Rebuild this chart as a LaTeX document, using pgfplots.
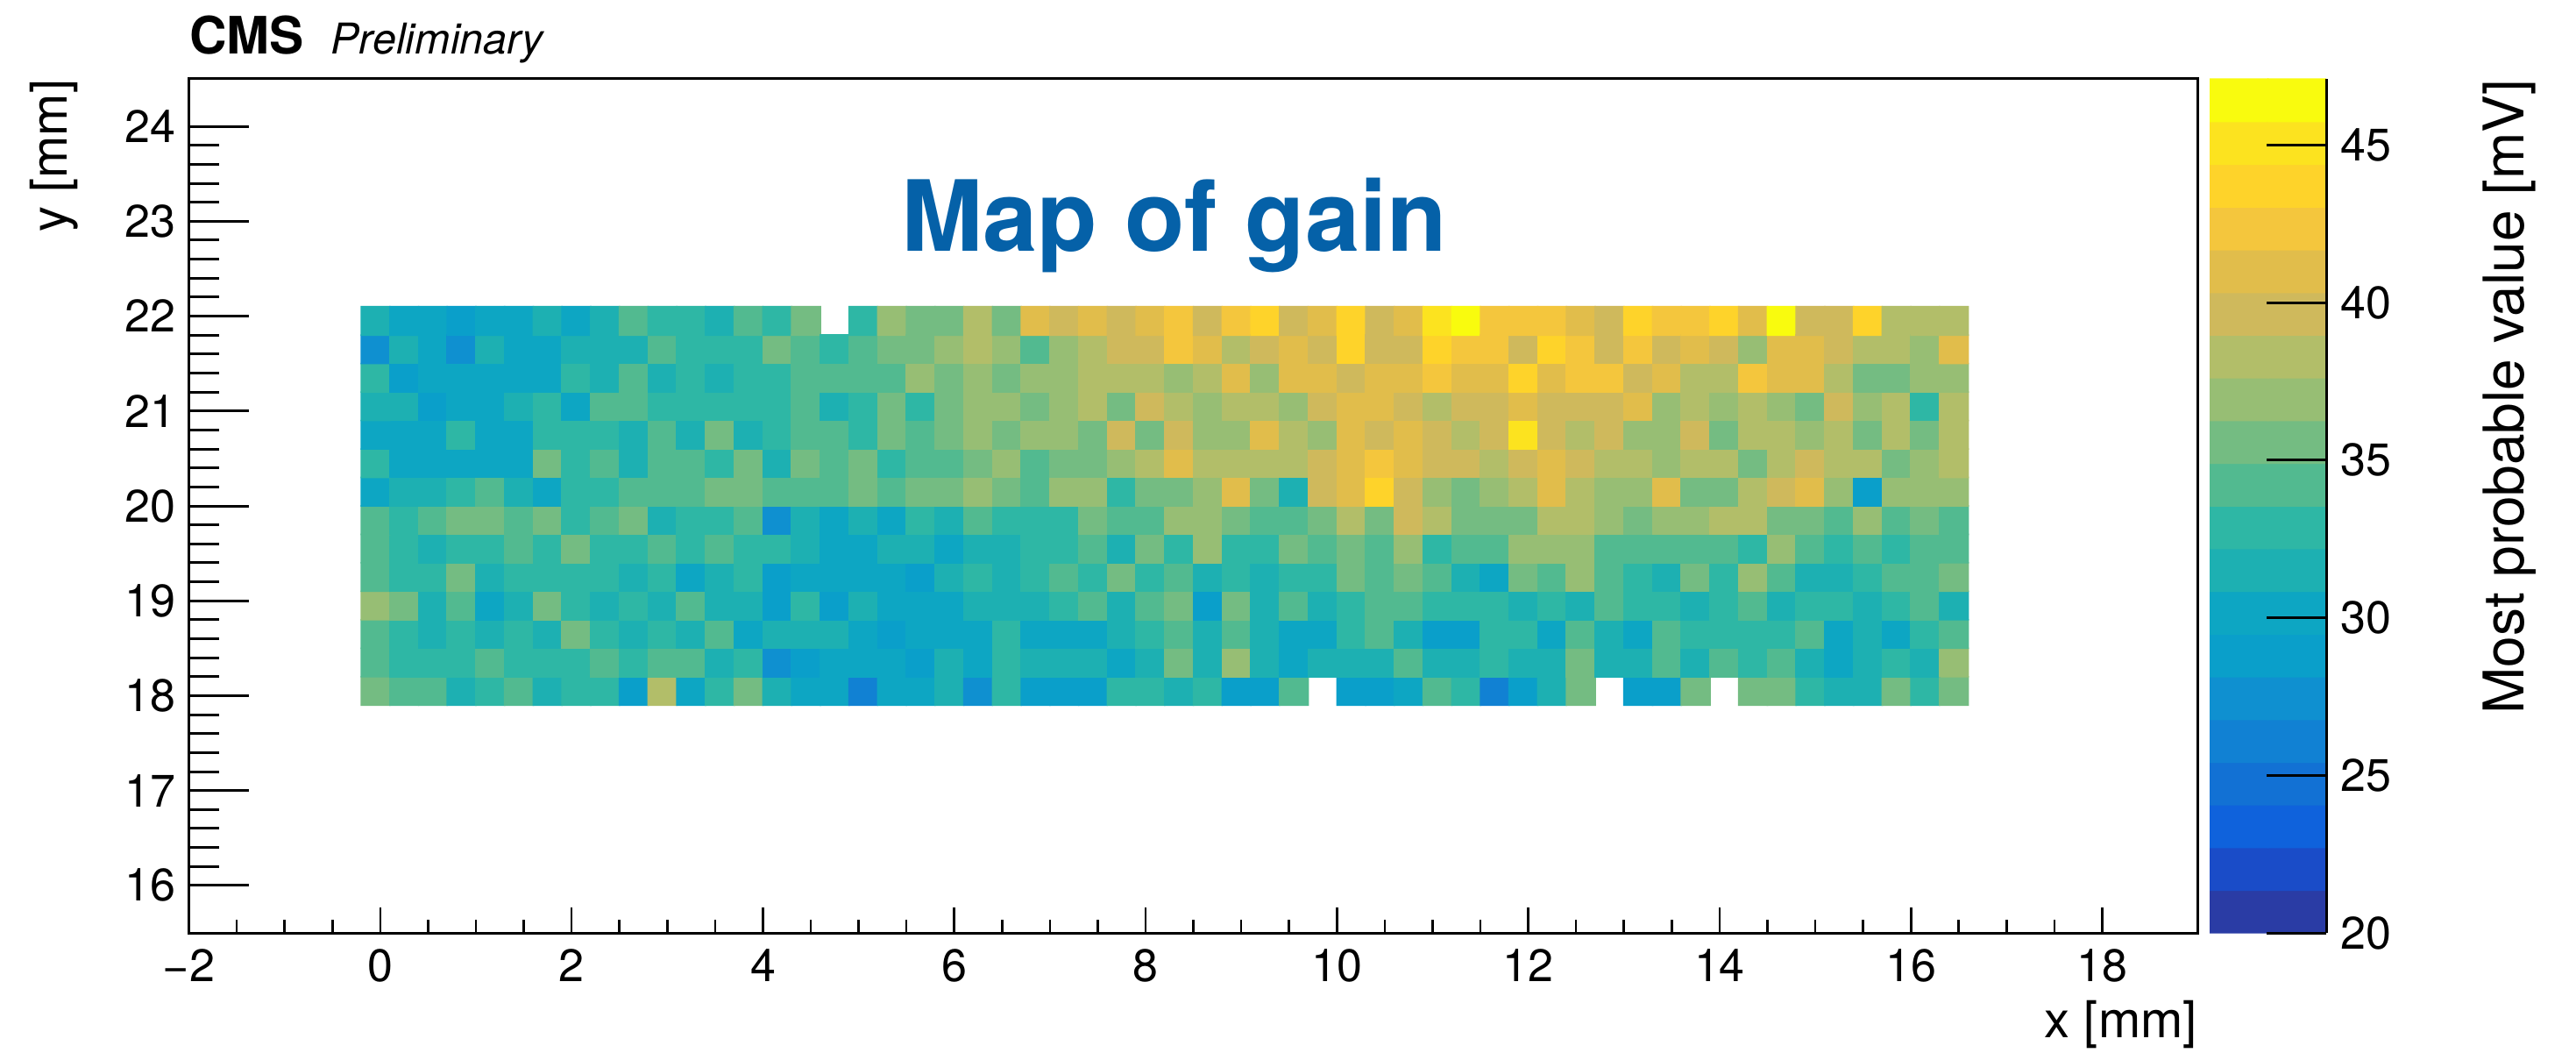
\documentclass[border=0pt]{standalone}
\usepackage{fontspec}
\setmainfont{TeX Gyre Heros}
\usepackage{pgfplots}
\pgfplotsset{compat=1.18}
\definecolor{titleblue}{RGB}{5,97,168}
\tikzset{txt/.style={font=\fontsize{13}{15}\selectfont}}
\pgfplotsset{
  gainmap/.style={
    colormap={gain}{rgb255=(42,60,165) rgb255=(26,76,200) rgb255=(15,98,220) rgb255=(18,113,212) rgb255=(17,129,211)
      rgb255=(15,144,208) rgb255=(10,159,202) rgb255=(13,166,195) rgb255=(29,176,178) rgb255=(46,183,165)
      rgb255=(82,186,144) rgb255=(116,188,130) rgb255=(151,190,116) rgb255=(178,190,105) rgb255=(207,185,92)
      rgb255=(225,189,75) rgb255=(244,198,61) rgb255=(254,211,42) rgb255=(252,227,31) rgb255=(249,251,14)},
    colormap access=piecewise constant,
    point meta min=20, point meta max=47.1
  }
}
\begin{document}
\begin{tikzpicture}[x=1pt,y=1pt]
\useasboundingbox (0,0) rectangle (734.75,300);
% heat map and x ticks
\begin{axis}[
  at={(53.9pt,34pt)}, anchor=south west, scale only axis,
  width=573pt, height=243.5pt, gainmap,
  xmin=-2, xmax=19, ymin=15.5, ymax=24.5,
  xtick={-2,0,...,18}, xticklabels={−2,0,2,4,6,8,10,12,14,16,18},
  minor x tick num=3, ytick=\empty,
  tick align=inside, xtick pos=bottom,
  tickwidth=7.25pt, subtickwidth=3.75pt,
  every tick/.style={black,line width=0.65pt},
  axis line style={line width=0.75pt},
  x tick label style={txt, yshift=-1.0pt},
  xlabel={x [mm]},
  xlabel style={font=\fontsize{14.5}{16}\selectfont, inner sep=0pt, at={(axis description cs:1,-0.078)}, anchor=north east},
  /pgf/number format/assume math mode=true,
  clip=true
]
\addplot[matrix plot*, mesh/cols=56, point meta=explicit, unbounded coords=jump]
 table[header=false,row sep=\\,
   x expr={-0.05+0.3*mod(\coordindex,56)},
   y expr={18.05+0.3*floor((\coordindex+0.5)/56)},
   meta index=0]{
35.6\\34.2\\34.2\\31.5\\32.9\\34.2\\31.5\\32.9\\32.9\\28.8\\38.3\\30.2\\32.9\\35.6\\31.5\\30.2\\30.2\\26.1\\30.2\\30.2\\31.5\\27.5\\32.9\\28.8\\28.8\\28.8\\32.9\\32.9\\31.5\\32.9\\28.8\\28.8\\34.2\\nan\\28.8\\28.8\\30.2\\34.2\\32.9\\26.1\\28.8\\31.5\\35.6\\nan\\28.8\\28.8\\35.6\\nan\\35.6\\35.6\\32.9\\31.5\\31.5\\35.6\\32.9\\35.6\\
34.2\\32.9\\32.9\\32.9\\34.2\\32.9\\32.9\\32.9\\34.2\\32.9\\34.2\\34.2\\31.5\\32.9\\27.5\\28.8\\30.2\\30.2\\30.2\\28.8\\31.5\\30.2\\32.9\\31.5\\31.5\\31.5\\30.2\\31.5\\35.6\\31.5\\36.9\\31.5\\30.2\\31.5\\31.5\\31.5\\34.2\\31.5\\31.5\\32.9\\31.5\\31.5\\35.6\\31.5\\31.5\\34.2\\31.5\\34.2\\32.9\\34.2\\31.5\\30.2\\31.5\\32.9\\31.5\\36.9\\
34.2\\32.9\\31.5\\32.9\\31.5\\32.9\\31.5\\35.6\\32.9\\31.5\\32.9\\31.5\\34.2\\30.2\\31.5\\31.5\\31.5\\30.2\\28.8\\30.2\\30.2\\30.2\\32.9\\30.2\\30.2\\30.2\\31.5\\32.9\\34.2\\31.5\\34.2\\31.5\\30.2\\30.2\\32.9\\34.2\\31.5\\28.8\\28.8\\32.9\\32.9\\30.2\\34.2\\31.5\\30.2\\34.2\\32.9\\32.9\\32.9\\32.9\\34.2\\30.2\\31.5\\30.2\\32.9\\34.2\\
36.9\\35.6\\31.5\\34.2\\30.2\\31.5\\35.6\\32.9\\31.5\\32.9\\31.5\\34.2\\31.5\\31.5\\28.8\\32.9\\28.8\\31.5\\30.2\\30.2\\30.2\\31.5\\31.5\\31.5\\32.9\\34.2\\31.5\\34.2\\35.6\\28.8\\35.6\\31.5\\34.2\\31.5\\32.9\\34.2\\34.2\\32.9\\32.9\\32.9\\31.5\\32.9\\31.5\\34.2\\32.9\\32.9\\31.5\\32.9\\34.2\\31.5\\32.9\\32.9\\31.5\\32.9\\34.2\\31.5\\
34.2\\32.9\\32.9\\35.6\\31.5\\32.9\\32.9\\32.9\\32.9\\31.5\\32.9\\30.2\\31.5\\32.9\\28.8\\30.2\\30.2\\30.2\\30.2\\28.8\\31.5\\32.9\\31.5\\32.9\\34.2\\32.9\\35.6\\32.9\\34.2\\31.5\\32.9\\31.5\\32.9\\32.9\\35.6\\34.2\\35.6\\34.2\\31.5\\30.2\\35.6\\34.2\\36.9\\34.2\\32.9\\31.5\\35.6\\32.9\\36.9\\34.2\\31.5\\31.5\\32.9\\34.2\\34.2\\35.6\\
34.2\\32.9\\31.5\\32.9\\32.9\\34.2\\32.9\\35.6\\32.9\\32.9\\34.2\\32.9\\34.2\\32.9\\32.9\\31.5\\30.2\\30.2\\31.5\\31.5\\30.2\\31.5\\31.5\\32.9\\32.9\\34.2\\31.5\\35.6\\32.9\\36.9\\32.9\\32.9\\35.6\\34.2\\35.6\\34.2\\36.9\\32.9\\34.2\\34.2\\36.9\\36.9\\36.9\\34.2\\34.2\\34.2\\34.2\\34.2\\32.9\\36.9\\34.2\\32.9\\34.2\\32.9\\34.2\\34.2\\
34.2\\32.9\\34.2\\35.6\\35.6\\34.2\\35.6\\32.9\\34.2\\35.6\\31.5\\32.9\\32.9\\34.2\\27.5\\31.5\\30.2\\31.5\\30.2\\32.9\\31.5\\34.2\\32.9\\32.9\\32.9\\35.6\\34.2\\34.2\\36.9\\36.9\\35.6\\34.2\\34.2\\35.6\\38.3\\35.6\\39.6\\38.3\\35.6\\35.6\\35.6\\38.3\\38.3\\36.9\\35.6\\36.9\\36.9\\38.3\\38.3\\35.6\\35.6\\34.2\\36.9\\34.2\\35.6\\34.2\\
30.2\\31.5\\31.5\\32.9\\34.2\\31.5\\30.2\\32.9\\32.9\\34.2\\34.2\\34.2\\35.6\\35.6\\34.2\\34.2\\34.2\\35.6\\34.2\\35.6\\35.6\\36.9\\35.6\\34.2\\36.9\\36.9\\32.9\\35.6\\35.6\\36.9\\41.0\\35.6\\31.5\\39.6\\41.0\\43.7\\39.6\\36.9\\35.6\\36.9\\38.3\\41.0\\38.3\\36.9\\36.9\\41.0\\35.6\\35.6\\38.3\\39.6\\41.0\\36.9\\28.8\\36.9\\36.9\\36.9\\
32.9\\30.2\\30.2\\30.2\\30.2\\30.2\\35.6\\32.9\\34.2\\31.5\\34.2\\34.2\\32.9\\35.6\\31.5\\35.6\\34.2\\35.6\\32.9\\34.2\\34.2\\35.6\\36.9\\34.2\\35.6\\35.6\\36.9\\38.3\\41.0\\38.3\\38.3\\38.3\\38.3\\39.6\\41.0\\42.4\\41.0\\39.6\\39.6\\38.3\\39.6\\41.0\\39.6\\38.3\\38.3\\36.9\\38.3\\38.3\\35.6\\38.3\\39.6\\38.3\\38.3\\35.6\\36.9\\38.3\\
30.2\\30.2\\30.2\\32.9\\30.2\\30.2\\32.9\\32.9\\32.9\\31.5\\34.2\\31.5\\35.6\\31.5\\32.9\\34.2\\34.2\\32.9\\35.6\\34.2\\35.6\\36.9\\35.6\\36.9\\36.9\\35.6\\39.6\\35.6\\39.6\\36.9\\36.9\\41.0\\38.3\\36.9\\41.0\\39.6\\41.0\\39.6\\38.3\\39.6\\45.1\\39.6\\38.3\\39.6\\36.9\\36.9\\39.6\\35.6\\38.3\\38.3\\36.9\\38.3\\35.6\\38.3\\35.6\\38.3\\
31.5\\31.5\\28.8\\30.2\\30.2\\31.5\\32.9\\30.2\\34.2\\34.2\\32.9\\32.9\\32.9\\32.9\\32.9\\34.2\\31.5\\32.9\\35.6\\32.9\\35.6\\36.9\\36.9\\35.6\\36.9\\38.3\\35.6\\39.6\\38.3\\36.9\\38.3\\38.3\\36.9\\39.6\\41.0\\41.0\\39.6\\38.3\\39.6\\39.6\\41.0\\39.6\\39.6\\39.6\\41.0\\36.9\\38.3\\36.9\\38.3\\36.9\\35.6\\39.6\\36.9\\38.3\\32.9\\38.3\\
32.9\\28.8\\30.2\\30.2\\30.2\\30.2\\30.2\\32.9\\31.5\\34.2\\31.5\\32.9\\31.5\\32.9\\32.9\\34.2\\34.2\\34.2\\34.2\\36.9\\35.6\\36.9\\35.6\\36.9\\36.9\\38.3\\38.3\\38.3\\36.9\\38.3\\41.0\\36.9\\41.0\\41.0\\39.6\\41.0\\41.0\\42.4\\41.0\\41.0\\43.7\\41.0\\42.4\\42.4\\39.6\\41.0\\38.3\\38.3\\42.4\\41.0\\41.0\\38.3\\35.6\\35.6\\36.9\\36.9\\
27.5\\31.5\\30.2\\27.5\\31.5\\30.2\\30.2\\31.5\\31.5\\31.5\\34.2\\32.9\\32.9\\32.9\\35.6\\34.2\\32.9\\34.2\\35.6\\35.6\\36.9\\38.3\\36.9\\34.2\\36.9\\38.3\\39.6\\39.6\\42.4\\41.0\\38.3\\39.6\\41.0\\39.6\\43.7\\39.6\\39.6\\43.7\\42.4\\42.4\\39.6\\43.7\\42.4\\39.6\\42.4\\39.6\\41.0\\39.6\\36.9\\41.0\\41.0\\39.6\\38.3\\38.3\\36.9\\41.0\\
31.5\\30.2\\30.2\\28.8\\30.2\\30.2\\31.5\\30.2\\31.5\\34.2\\32.9\\32.9\\31.5\\34.2\\32.9\\35.6\\nan\\32.9\\36.9\\35.6\\35.6\\38.3\\35.6\\41.0\\39.6\\41.0\\39.6\\41.0\\42.4\\39.6\\42.4\\43.7\\39.6\\41.0\\43.7\\39.6\\41.0\\45.1\\46.4\\42.4\\42.4\\42.4\\41.0\\39.6\\43.7\\42.4\\42.4\\43.7\\41.0\\46.4\\39.6\\39.6\\43.7\\38.3\\38.3\\38.3\\
};
\node[font=\fontsize{28}{30}\selectfont\bfseries, text=titleblue, anchor=base] at (axis cs:8.30,22.68) {Map of gain};
\end{axis}
% y ticks and frame
\begin{axis}[
  at={(53.9pt,34pt)}, anchor=south west, scale only axis,
  width=573pt, height=243.5pt,
  xmin=-2, xmax=19, ymin=15.5, ymax=24.5,
  xtick=\empty, ytick={16,...,24}, minor y tick num=4,
  tick align=inside, ytick pos=left,
  tickwidth=17pt, subtickwidth=8.5pt,
  every tick/.style={black,line width=0.75pt},
  axis line style={line width=0.75pt},
  y tick label style={txt, xshift=-0.3pt},
  ylabel={y [mm]},
  ylabel style={font=\fontsize{14.5}{16}\selectfont, inner sep=0pt, at={(axis description cs:-0.0797,1)}, anchor=north east},
  /pgf/number format/assume math mode=true
]
\end{axis}
% colour bar
\begin{axis}[
  at={(630.25pt,34pt)}, anchor=south west, scale only axis,
  width=33.25pt, height=243.5pt, gainmap, axis on top,
  xmin=0, xmax=1, ymin=20, ymax=47.1,
  axis x line=none, axis y line=right,
  axis line style={-,line width=0.75pt},
  ytick={20,25,...,45},
  tick align=inside, tickwidth=17pt,
  every tick/.style={black,line width=0.75pt},
  y tick label style={txt, xshift=0.5pt},
  ylabel={Most probable value [mV]},
  ylabel style={font=\fontsize{16}{18}\selectfont, inner sep=0pt, at={(axis description cs:2.34,1)}, anchor=north east},
  /pgf/number format/assume math mode=true
]
\addplot[matrix plot*, mesh/cols=2, point meta=explicit] table[meta=z]{
x y z
0.25 20.68 20.68
0.75 20.68 20.68
0.25 22.03 22.03
0.75 22.03 22.03
0.25 23.39 23.39
0.75 23.39 23.39
0.25 24.74 24.74
0.75 24.74 24.74
0.25 26.10 26.10
0.75 26.10 26.10
0.25 27.45 27.45
0.75 27.45 27.45
0.25 28.81 28.81
0.75 28.81 28.81
0.25 30.16 30.16
0.75 30.16 30.16
0.25 31.52 31.52
0.75 31.52 31.52
0.25 32.87 32.87
0.75 32.87 32.87
0.25 34.23 34.23
0.75 34.23 34.23
0.25 35.58 35.58
0.75 35.58 35.58
0.25 36.94 36.94
0.75 36.94 36.94
0.25 38.29 38.29
0.75 38.29 38.29
0.25 39.65 39.65
0.75 39.65 39.65
0.25 41.00 41.00
0.75 41.00 41.00
0.25 42.36 42.36
0.75 42.36 42.36
0.25 43.71 43.71
0.75 43.71 43.71
0.25 45.07 45.07
0.75 45.07 45.07
0.25 46.42 46.42
0.75 46.42 46.42
};
\end{axis}
\node[inner sep=0pt, anchor=base west, font=\fontsize{14.7}{16}\selectfont\bfseries] at (53.9,284.5) {CMS};
\node[inner sep=0pt, anchor=base west, font=\fontsize{12.1}{13}\selectfont\itshape] at (94.2,284.5) {Preliminary};
\end{tikzpicture}
\end{document}
